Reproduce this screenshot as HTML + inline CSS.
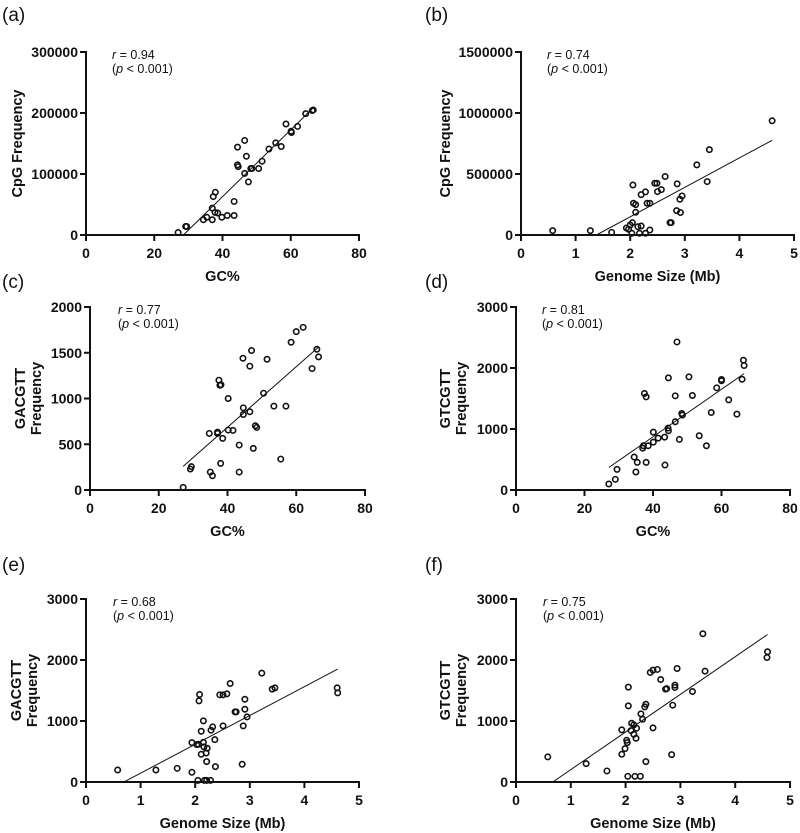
<!DOCTYPE html>
<html><head><meta charset="utf-8">
<style>
html,body{margin:0;padding:0;background:#fff;}
svg{display:block;font-family:"Liberation Sans",Arial,sans-serif;}
.tick{font-size:14px;font-weight:bold;fill:#111;}
.ttl{font-size:14.5px;font-weight:bold;fill:#111;}
.stat{font-size:12.5px;fill:#111;}
.plab{font-size:19px;fill:#111;}
</style></head>
<body>
<svg id="fig" width="800" height="833" viewBox="0 0 800 833" xmlns="http://www.w3.org/2000/svg"></svg>
<script>
// ---- data ----
const aGC = [27,29.2,29.5,34.4,35.4,37,37,37.3,37.9,37.8,38.6,39.8,41.4,43.4,43.4,44.4,44.4,44.6,46.5,47,46.5,47.6,48.3,48.6,50.6,51.6,53.6,55.6,57.2,58.6,60.1,60.2,62,64.4,66.3,66.6];
const aCpG = [4000,14000,14000,25000,29000,25000,44000,63000,70000,37000,36000,29000,32000,32000,55000,144000,115000,112000,155000,129000,101000,87000,109000,109000,109000,121000,141000,151000,145000,182000,170000,168000,178000,199000,204000,205000];
const bSize = [0.58,1.27,1.66,1.93,2.0,1.97,2.03,2.04,2.05,2.06,2.1,2.1,2.14,2.2,2.17,2.28,2.2,2.28,2.31,2.36,2.36,2.45,2.49,2.5,2.57,2.64,2.73,2.75,2.86,2.85,2.91,2.92,2.95,3.22,3.41,3.45,4.6];
const bCpG = [36000,36000,22000,57000,82000,47000,14000,101000,410000,260000,249000,186000,68000,74000,14000,14000,331000,353000,260000,260000,41000,424000,424000,356000,372000,479000,101000,101000,419000,200000,293000,184000,320000,575000,438000,700000,936000];
const cGC = [27.1,29.2,29.5,35,35.6,34.7,37.1,37.1,37.5,37.8,38.1,38,38.6,40.2,40.2,41.6,43.4,43.4,44.5,44.6,44.6,46.5,46.5,47,47.5,48.1,48.5,50.5,51.5,53.5,55.5,57,58.5,60,62,64.6,66,66.5];
const cGACGTT = [29,229,255,196,156,618,618,633,1200,1145,1150,291,564,1000,655,651,491,196,1440,898,825,1353,855,1524,455,702,684,1058,1429,916,338,916,1615,1731,1778,1327,1538,1455];
const dGC = [27.1,29,29.5,34.5,35,35.4,37,37.2,37.5,38,38,38.6,40.1,40.1,41.5,43.4,43.5,44.4,44.5,44.5,46.5,46.5,47,47.7,48.4,48.6,50.5,51.5,53.5,55.6,57,58.6,60,60,62.1,64.5,66,66.4,66.6];
const dGTCGTT = [98,175,338,540,295,453,687,725,1582,1527,453,725,949,785,851,867,409,1015,971,1838,1118,1544,2427,829,1255,1230,1855,1549,889,725,1271,1675,1811,1790,1478,1244,1816,2127,2040];
const eSize = [0.58,1.28,1.67,1.94,1.94,2.03,2.06,2.05,2.07,2.08,2.11,2.11,2.15,2.15,2.16,2.17,2.2,2.21,2.22,2.21,2.28,2.29,2.32,2.36,2.37,2.45,2.51,2.51,2.58,2.64,2.73,2.75,2.86,2.88,2.91,2.91,2.95,3.22,3.41,3.46,4.6,4.61];
const eGACGTT = [197,197,224,159,646,613,619,27,1330,1434,832,454,1002,651,575,27,476,27,553,334,27,849,903,695,252,1429,1429,920,1445,1615,1149,1149,290,920,1357,1193,1067,1784,1522,1543,1543,1461];
const fSize = [0.58,1.28,1.66,1.93,1.93,1.99,2.02,2.03,2.04,2.05,2.05,2.1,2.11,2.15,2.15,2.17,2.19,2.2,2.27,2.28,2.31,2.35,2.37,2.37,2.45,2.5,2.5,2.58,2.64,2.73,2.75,2.86,2.9,2.9,2.84,2.94,3.22,3.41,3.45,4.59,4.58];
const fGTCGTT = [411,301,181,454,854,547,684,646,93,1555,1248,843,963,936,783,93,717,882,93,1117,1029,1232,1275,334,1796,1834,887,1845,1680,1522,1530,1259,1588,1550,449,1861,1483,2430,1817,2135,2040];
const yTicksA = [0,100000,200000,300000];
const yTicksB = [0,500000,1000000,1500000];
const yTicksC = [0,500,1000,1500,2000];
const yTicks3k = [0,1000,2000,3000];
const xTicksGC = [0,20,40,60,80];
const xTicksMb = [0,1,2,3,4,5];
const statR = ["0.94","0.74","0.77","0.81","0.68","0.75"];

const svg = document.getElementById('fig');
const NS = 'http://www.w3.org/2000/svg';
function mk(tag, attrs, parent){
  const e = document.createElementNS(NS, tag);
  for (const k in attrs) e.setAttribute(k, attrs[k]);
  (parent||svg).appendChild(e);
  return e;
}

function panel(o){
  const g = mk('g', {});
  
  
  const sx = v => o.x0 + (v - o.xmin) / (o.xmax - o.xmin) * (o.x1 - o.x0);
  const sy = v => o.y0 - (v - 0) / o.ymax * (o.y0 - o.y1);
  const pl = mk('text', {x: o.lx, y: o.ly, class: 'plab'}, g);
  pl.textContent = '(' + o.id + ')';
  
  
  const ya = mk('line', {x1: o.x0, y1: o.y0, x2: o.x0, y2: o.y1 - 1, stroke: '#111', 'stroke-width': 2}, g);
  
  
  const xa = mk('line', {x1: o.x0 - 1, y1: o.y0, x2: o.x1 + 1, y2: o.y0, stroke: '#111', 'stroke-width': 2}, g);
  
  
  o.yt.forEach(v => {
    const y = sy(v);
    mk('line', {x1: o.x0 - 6, y1: y, x2: o.x0, y2: y, stroke: '#111', 'stroke-width': 2}, g);
    const t = mk('text', {x: o.x0 - 8, y: y + 5, class: 'tick', 'text-anchor': 'end'}, g);
    t.textContent = v;
    
    
  });
  o.xt.forEach(v => {
    const x = sx(v);
    mk('line', {x1: x, y1: o.y0, x2: x, y2: o.y0 + 6, stroke: '#111', 'stroke-width': 2}, g);
    const t = mk('text', {x: x, y: o.y0 + 23, class: 'tick', 'text-anchor': 'middle'}, g);
    t.textContent = v;
    
    
  });
  const xt = mk('text', {x: (o.x0 + o.x1) / 2, y: o.y0 + 46, class: 'ttl', 'text-anchor': 'middle'}, g);
  xt.textContent = o.xlabel;
  
  
  const cy = (o.y0 + o.y1) / 2;
  o.ylabel.forEach((s, i) => {
    const xx = o.ytx + i * 16;
    const t = mk('text', {x: xx, y: cy, class: 'ttl', 'text-anchor': 'middle', transform: 'rotate(-90 ' + xx + ' ' + cy + ')'}, g);
    t.textContent = s;
    
    
  });
  const s1 = mk('text', {x: o.sx, y: o.y1 + 7, class: 'stat'}, g);
  s1.innerHTML = '<tspan font-style="italic">r</tspan> = ' + o.r;
  
  
  const s2 = mk('text', {x: o.sx, y: o.y1 + 21, class: 'stat'}, g);
  s2.innerHTML = '(<tspan font-style="italic">p</tspan> &lt; 0.001)';
  
  
  const xs = o.xs, ys = o.ys, n = xs.length;
  let mx = 0, my = 0; xs.forEach((v, i) => { mx += v; my += ys[i]; }); mx /= n; my /= n;
  let sxy = 0, sxx = 0; xs.forEach((v, i) => { sxy += (v - mx) * (ys[i] - my); sxx += (v - mx) * (v - mx); });
  const b = sxy / sxx, a = my - b * mx;
  let xa0 = Math.min(...xs), xa1 = Math.max(...xs);
  if (a + b * xa0 < 0 && b > 0) xa0 = -a / b;
  const ln = mk('line', {x1: sx(xa0), y1: sy(a + b * xa0), x2: sx(xa1), y2: sy(a + b * xa1), stroke: '#111', 'stroke-width': 1}, g);
  
  
  xs.forEach((v, i) => {
    const c = mk('circle', {cx: sx(v), cy: sy(ys[i]), r: 2.7, fill: 'none', stroke: '#111', 'stroke-width': 1.6}, g);
    
    
  });
}

panel({id:'a', x0:86, x1:359, y0:235, y1:52, xmin:0, xmax:80, ymax:300000, xs:aGC, ys:aCpG, yt:yTicksA, xt:xTicksGC, xlabel:'GC%', ylabel:['CpG Frequency'], ytx:22, sx:112, r:statR[0], lx:2, ly:21});
panel({id:'b', x0:521, x1:794, y0:235, y1:52, xmin:0, xmax:5, ymax:1500000, xs:bSize, ys:bCpG, yt:yTicksB, xt:xTicksMb, xlabel:'Genome Size (Mb)', ylabel:['CpG Frequency'], ytx:450, sx:547, r:statR[1], lx:425, ly:21});
panel({id:'c', x0:90, x1:365, y0:490, y1:307, xmin:0, xmax:80, ymax:2000, xs:cGC, ys:cGACGTT, yt:yTicksC, xt:xTicksGC, xlabel:'GC%', ylabel:['GACGTT','Frequency'], ytx:25, sx:118, r:statR[2], lx:2, ly:288});
panel({id:'d', x0:516, x1:790, y0:490, y1:307, xmin:0, xmax:80, ymax:3000, xs:dGC, ys:dGTCGTT, yt:yTicks3k, xt:xTicksGC, xlabel:'GC%', ylabel:['GTCGTT','Frequency'], ytx:450, sx:542, r:statR[3], lx:425, ly:288});
panel({id:'e', x0:86, x1:359, y0:782, y1:599, xmin:0, xmax:5, ymax:3000, xs:eSize, ys:eGACGTT, yt:yTicks3k, xt:xTicksMb, xlabel:'Genome Size (Mb)', ylabel:['GACGTT','Frequency'], ytx:21, sx:113, r:statR[4], lx:2, ly:571});
panel({id:'f', x0:516, x1:790, y0:782, y1:599, xmin:0, xmax:5, ymax:3000, xs:fSize, ys:fGTCGTT, yt:yTicks3k, xt:xTicksMb, xlabel:'Genome Size (Mb)', ylabel:['GTCGTT','Frequency'], ytx:450, sx:543, r:statR[5], lx:425, ly:571});
</script>
</body></html>
